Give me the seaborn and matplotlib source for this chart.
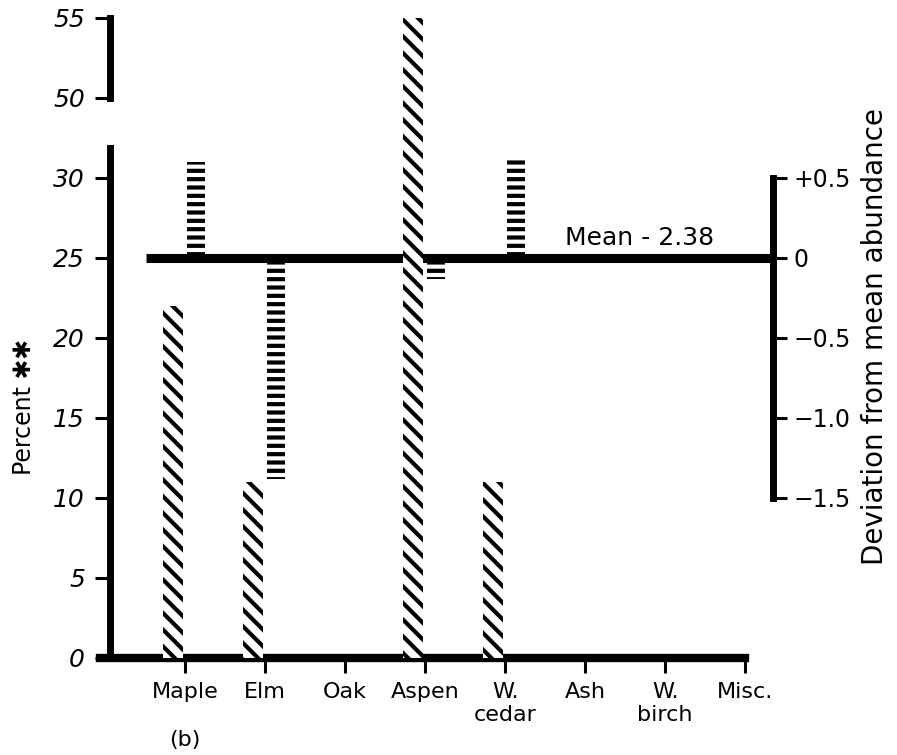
import numpy as np
import matplotlib
matplotlib.use('Agg')
import matplotlib.pyplot as plt
import seaborn as sns

# Data
species = ['Maple', 'Elm', 'Oak', 'Aspen', 'W.\ncedar', 'Ash', 'W.\nbirch', 'Misc.']
percent = [22, 11, 0, 55, 11, 0, 0, 0]
deviation = [0.60, -1.38, 0, -0.13, 0.62, 0, 0, 0]
left_ticks = [0, 5, 10, 15, 20, 25, 30, 50, 55]
right_ticks = [-1.5, -1.0, -0.5, 0, 0.5]
right_labels = ['\u22121.5', '\u22121.0', '\u22120.5', '0', '+0.5']
mean_value = 2.38

sns.set_style('ticks')
plt.rcParams['font.family'] = ['DejaVu Sans']
plt.rcParams['hatch.linewidth'] = 3.0
plt.rcParams['hatch.color'] = 'black'
for key in ['axes.edgecolor', 'xtick.color', 'ytick.color', 'text.color', 'axes.labelcolor']:
    plt.rcParams[key] = 'black'


# broken percent axis: 30..50 squeezed
def fwd(v):
    v = np.asarray(v, dtype=float)
    return np.where(v <= 30, v, np.where(v < 50, 30 + (v - 30) * 0.25, v - 15))


def inv(y):
    y = np.asarray(y, dtype=float)
    return np.where(y <= 30, y, np.where(y < 35, 30 + (y - 30) * 4, y + 15))


fig = plt.figure(figsize=(8.97, 7.55), dpi=100)
ax = fig.add_axes([0.1115, 0.1285, 0.7503, 0.8583])

sns.barplot(x=species, y=percent, ax=ax, width=0.25, color='white',
            edgecolor='black', linewidth=0, errorbar=None, saturation=1)
for p in ax.patches:
    p.set_x(p.get_x() - 0.15)
    p.set_hatch('\\\\')
    p.set_zorder(3)

ax.set_yscale('function', functions=(fwd, inv))
x_lo, x_hi = -1.0625, 7.35
spine_x = -0.9375
ax.set_xlim(x_lo, x_hi)
ax.set_ylim(0, 55.5)

ax2 = ax.twinx()
sns.barplot(x=species, y=deviation, ax=ax2, width=0.225, color='white',
            edgecolor='black', linewidth=0, errorbar=None, saturation=1)
for p in ax2.patches:
    p.set_x(p.get_x() + 0.1375)
    p.set_hatch('--')
ax2.set_xlim(x_lo, x_hi)
ax2.set_ylim(-2.5, 1.55)

# mean line
ax2.hlines(0, -0.49, x_hi, color='black', lw=6.5, zorder=1)
ax2.text(4.75, 0.05, f'Mean - {mean_value}', fontsize=18, ha='left', va='bottom')
ax.set_zorder(ax2.get_zorder() + 1)
ax.patch.set_visible(False)

# left axis
for s in ['top', 'right']:
    ax.spines[s].set_visible(False)
ax.spines['left'].set_position(('data', spine_x))
ax.spines['left'].set_bounds(0, 37.6)
ax.spines['left'].set_linewidth(5)
ax.spines['bottom'].set_bounds(x_lo, 7)
ax.spines['bottom'].set_linewidth(6)
ax.plot([spine_x, spine_x], [50, 55], color='black', lw=5,
        solid_capstyle='projecting', clip_on=False)
ax.set_yticks(left_ticks)
ax.set_yticklabels([str(t) for t in left_ticks])
ax.yaxis.set_minor_locator(matplotlib.ticker.NullLocator())
for lab in ax.get_yticklabels():
    lab.set_style('italic')
ax.tick_params(axis='y', length=11, width=2.2, pad=7, labelsize=18)
ax.set_xticks(range(len(species)))
ax.set_xticklabels(species)
ax.tick_params(axis='x', length=11, width=2.2, pad=6, labelsize=16)
ax.set_xlabel('')
ax.set_ylabel('Percent \u2731\u2731', fontsize=17)
ax.yaxis.set_label_coords(-0.095, 0.388)

# right axis
for s in ['top', 'left', 'bottom']:
    ax2.spines[s].set_visible(False)
ax2.spines['right'].set_bounds(-1.5, 0.5)
ax2.spines['right'].set_linewidth(5)
ax2.set_yticks(right_ticks)
ax2.set_yticklabels(right_labels)
ax2.tick_params(axis='y', length=10, width=2.2, pad=5, labelsize=17)
ax2.set_ylabel('Deviation from mean abundance', fontsize=20)
ax2.yaxis.set_label_coords(1.13, 0.496)

fig.text(185 / 897, 1 - 740 / 755, '(b)', ha='center', va='center', fontsize=16)

fig.savefig('out.png', dpi=100)
